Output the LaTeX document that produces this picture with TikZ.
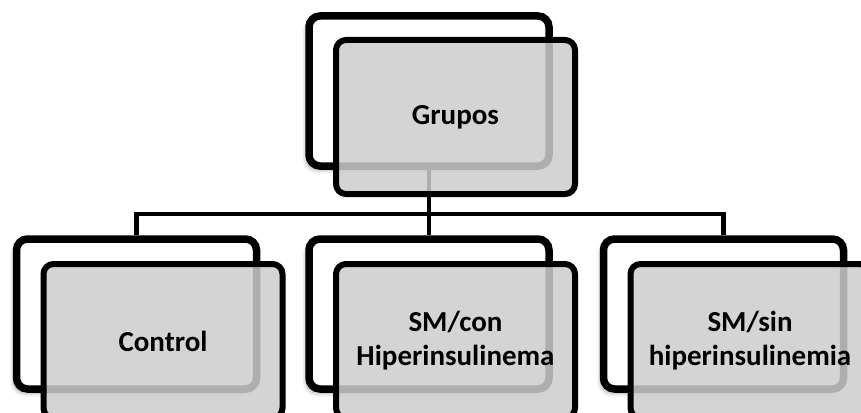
\documentclass[tikz,border=0pt]{standalone}
\usepackage{fontspec}
\setmainfont{Carlito}
\usetikzlibrary{shadows.blur}

\tikzset{
  backbox/.style={draw=black, line width=7.5pt, fill=white, rounded corners=11pt,
    minimum width=240pt, minimum height=150pt, inner sep=0pt,
    blur shadow={shadow xshift=-3pt, shadow yshift=-4pt, shadow blur radius=4pt, shadow opacity=35}},
  frontbox/.style={draw=black, line width=6pt, fill={rgb,255:red,205;green,205;blue,205},
    fill opacity=0.85, text opacity=1, rounded corners=10pt,
    minimum width=239pt, minimum height=154pt, inner sep=0pt,
    align=center, font=\fontsize{29}{34}\selectfont\bfseries},
  link/.style={draw=black, line width=4.5pt}
}

\begin{document}
\begin{tikzpicture}[x=1pt, y=-1pt]
  \useasboundingbox (0,0) rectangle (861,412);

  % back plates
  \node[backbox] (gb) at (429,91) {};
  \node[backbox] (c1b) at (136.5,314) {};
  \node[backbox] (c2b) at (429,314) {};
  \node[backbox] (c3b) at (723.5,314) {};

  % hierarchy connectors, drawn before the front cards
  \coordinate (bus) at (429,214);
  \draw[link] (gb.south) -- (bus);
  \draw[link] (c1b.north) |- (bus) -| (c3b.north);
  \draw[link] (bus) -- (c2b.north);

  % front cards with labels
  \node[frontbox] (g)  at (455.5,117) {Grupos};
  \node[frontbox] (c1) at (163,341) {Control};
  \node[frontbox] (c2) at (455.5,341) {SM/con\\Hiperinsulinema};
  \node[frontbox] (c3) at (750,341) {SM/sin\\hiperinsulinemia};
\end{tikzpicture}
\end{document}
